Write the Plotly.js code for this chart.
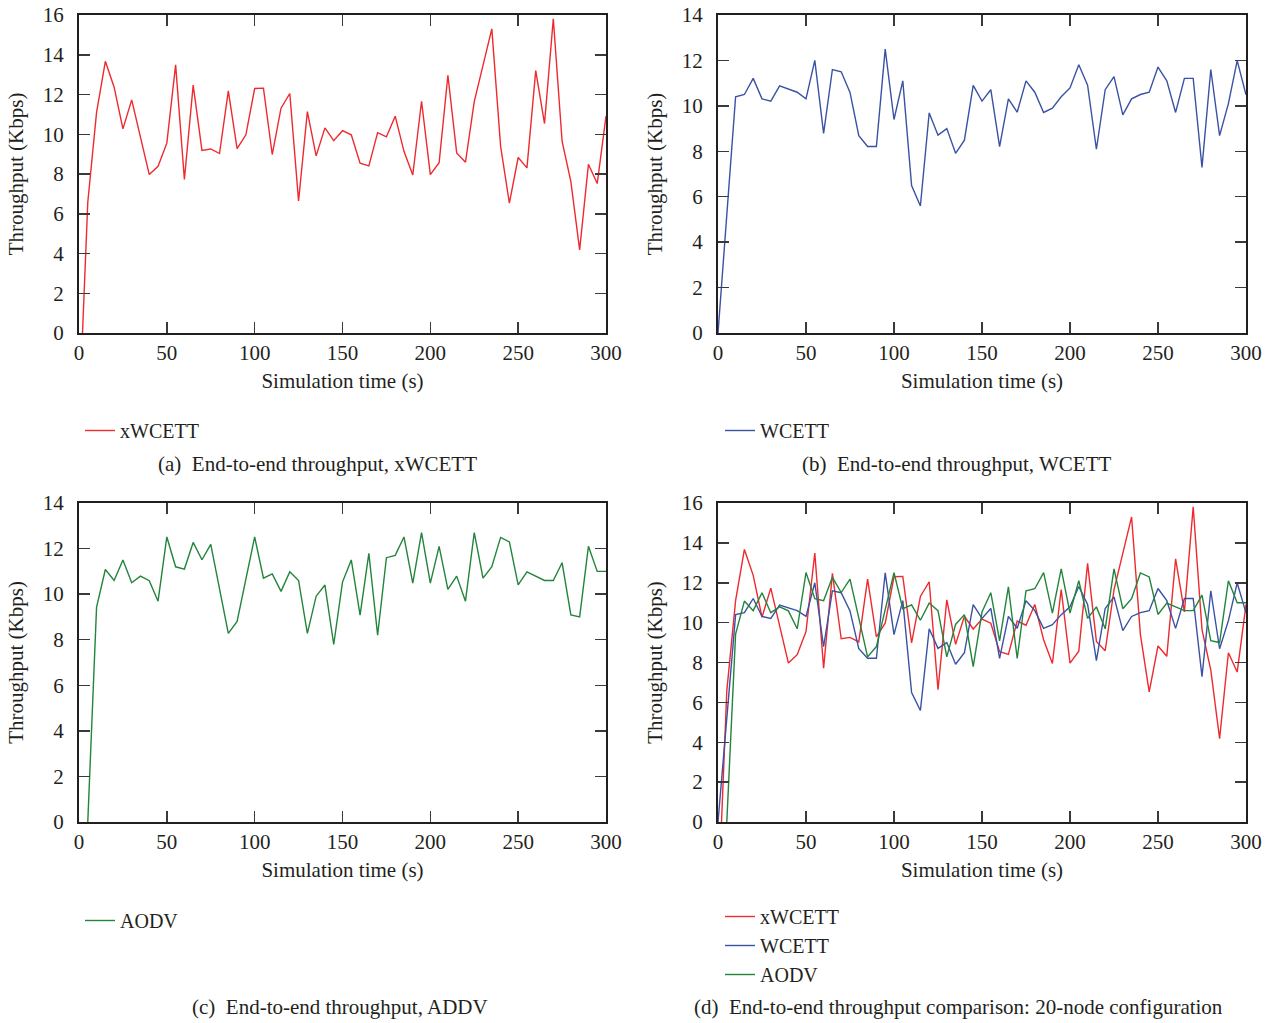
<!DOCTYPE html>
<html>
<head>
<meta charset="utf-8">
<script src="https://cdn.plot.ly/plotly-3.0.1.min.js"></script>
<style>html,body{margin:0;padding:0;background:#fff;}#chart{width:1274px;height:1023px;}</style>
</head>
<body>
<div id="chart"></div>
<script>
// ---- data ----
var timeX = [2,5,10,15,20,25,30,35,40,45,50,55,60,65,70,75,80,85,90,95,100,105,110,115,120,125,130,135,140,145,150,155,160,165,170,175,180,185,190,195,200,205,210,215,220,225,230,235,240,245,250,255,260,265,270,275,280,285,290,295,300];
var xwcett = [0,6.58,11.1,13.67,12.37,10.27,11.73,9.85,7.97,8.39,9.55,13.49,7.72,12.47,9.19,9.26,9.03,12.18,9.28,9.97,12.30,12.32,8.98,11.31,12.05,6.64,11.14,8.91,10.32,9.68,10.18,9.97,8.54,8.41,10.08,9.87,10.91,9.14,7.95,11.66,7.97,8.57,12.97,9.06,8.59,11.64,13.49,15.30,9.40,6.53,8.83,8.31,13.20,10.54,15.81,9.65,7.62,4.18,8.49,7.52,10.91];

var timeW = [0,5,10,15,20,25,30,35,40,45,50,55,60,65,70,75,80,85,90,95,100,105,110,115,120,125,130,135,140,145,150,155,160,165,170,175,180,185,190,195,200,205,210,215,220,225,230,235,240,245,250,255,260,265,270,275,280,285,290,295,300];
var wcett = [0,5.2,10.40,10.50,11.21,10.31,10.21,10.88,10.75,10.6,10.31,12.0,8.79,11.60,11.50,10.59,8.69,8.21,8.21,12.50,9.40,11.10,6.49,5.59,9.69,8.71,9.0,7.91,8.49,10.90,10.21,10.71,8.21,10.31,9.72,11.10,10.60,9.71,9.90,10.40,10.79,11.81,10.91,8.09,10.71,11.29,9.60,10.31,10.50,10.60,11.71,11.10,9.71,11.21,11.21,7.29,11.60,8.69,10.1,11.99,10.49];

var timeA = [5,10,15,20,25,30,35,40,45,50,55,60,65,70,75,80,85,90,95,100,105,110,115,120,125,130,135,140,145,150,155,160,165,170,175,180,185,190,195,200,205,210,215,220,225,230,235,240,245,250,255,260,265,270,275,280,285,290,295,300];
var aodv = [0,9.43,11.08,10.60,11.50,10.50,10.79,10.59,9.69,12.51,11.20,11.10,12.27,11.51,12.18,10.23,8.28,8.80,10.63,12.51,10.70,10.89,10.12,10.98,10.60,8.28,9.91,10.40,7.79,10.53,11.50,9.08,11.79,8.20,11.60,11.70,12.51,10.48,12.70,10.48,12.10,10.21,10.79,9.69,12.70,10.70,11.20,12.49,12.29,10.41,10.98,10.78,10.60,10.60,11.38,9.09,9.0,12.10,11.0,11.0];

var xTicks = [0,50,100,150,200,250,300];
var yTicks16 = [0,2,4,6,8,10,12,14,16];
var yTicks14 = [0,2,4,6,8,10,12,14];
var captions = ['(a)\u00a0 End-to-end throughput, xWCETT','(b)\u00a0 End-to-end throughput, WCETT','(c)\u00a0 End-to-end throughput, ADDV','(d)\u00a0 End-to-end throughput comparison: 20-node configuration'];

// ---- styling ----
var FONT = 'Liberation Serif, Times New Roman, serif';
var INK = '#231f20';
var RED = '#ee2a2e', BLUE = '#3a52a3', GREEN = '#23843b';
var W = 1274, H = 1023;
var FS = 21;
function px(v){return v/W;}
function py(v){return 1 - v/H;}

function xa(dom, anchor){
  return {domain: dom, anchor: anchor, range:[0,300], tickvals:xTicks, ticks:'inside', ticklen:11, tickwidth:1.5, tickcolor:'#3a3a3a',
    showline:true, linewidth:2, linecolor:INK, mirror:'allticks', showgrid:false, zeroline:false,
    ticklabelstandoff:0, tickfont:{family:FONT,size:FS,color:INK},
    title:{text:'Simulation time (s)', font:{family:FONT,size:FS,color:INK}, standoff:9}};
}
function ya(dom, anchor, top, tv){
  return {domain: dom, anchor: anchor, range:[0,top], tickvals:tv, ticks:'inside', ticklen:11, tickwidth:1.5, tickcolor:'#3a3a3a',
    showline:true, linewidth:2, linecolor:INK, mirror:'allticks', showgrid:false, zeroline:false,
    ticklabelstandoff:9, tickfont:{family:FONT,size:FS,color:INK},
    title:{text:'Throughput (Kbps)', font:{family:FONT,size:FS,color:INK}, standoff:13}};
}
var xL = [px(79), px(606)], xR = [px(718), px(1246)];
var yT = [py(333), py(15)], yB = [py(822), py(503)];

function line(x, y, name, color, xax, yax, leg){
  return {x:x, y:y, name:name, type:'scatter', mode:'lines', xaxis:xax, yaxis:yax, legend:leg,
    line:{color:color, width:1.4}, cliponaxis:true, hoverinfo:'skip'};
}
var traces = [
  line(timeX, xwcett, 'xWCETT', RED, 'x', 'y', 'legend'),
  line(timeW, wcett, 'WCETT', BLUE, 'x2', 'y2', 'legend2'),
  line(timeA, aodv, 'AODV', GREEN, 'x3', 'y3', 'legend3'),
  line(timeX, xwcett, 'xWCETT', RED, 'x4', 'y4', 'legend4'),
  line(timeW, wcett, 'WCETT', BLUE, 'x4', 'y4', 'legend4'),
  line(timeA, aodv, 'AODV', GREEN, 'x4', 'y4', 'legend4')
];

function leg(x, y){
  return {x:x, y:y, xanchor:'left', yanchor:'top', bgcolor:'rgba(0,0,0,0)', borderwidth:0, itemwidth:30,
    font:{family:FONT,size:20,color:INK}, tracegroupgap:0, traceorder:'normal'};
}
function cap(text, x, y){
  return {text:text, xref:'paper', yref:'paper', x:px(x), y:py(y), xanchor:'center', yanchor:'middle', showarrow:false,
    font:{family:FONT,size:FS,color:INK}};
}

var layout = {
  width:W, height:H, autosize:false, margin:{l:0,r:0,t:0,b:0}, paper_bgcolor:'#fff', plot_bgcolor:'#fff',
  showlegend:true,
  xaxis: xa(xL,'y'), yaxis: ya(yT,'x',16,yTicks16),
  xaxis2: xa(xR,'y2'), yaxis2: ya(yT,'x2',14,yTicks14),
  xaxis3: xa(xL,'y3'), yaxis3: ya(yB,'x3',14,yTicks14),
  xaxis4: xa(xR,'y4'), yaxis4: ya(yB,'x4',16,yTicks16),
  legend: leg(px(80), py(411)),
  legend2: leg(px(720), py(411)),
  legend3: leg(px(80), py(901)),
  legend4: leg(px(720), py(897)),
  annotations: [cap(captions[0],317,464), cap(captions[1],956,464), cap(captions[2],340,1007), cap(captions[3],958,1007)]
};
Plotly.newPlot('chart', traces, layout, {staticPlot:true, displayModeBar:false});
</script>
</body>
</html>
